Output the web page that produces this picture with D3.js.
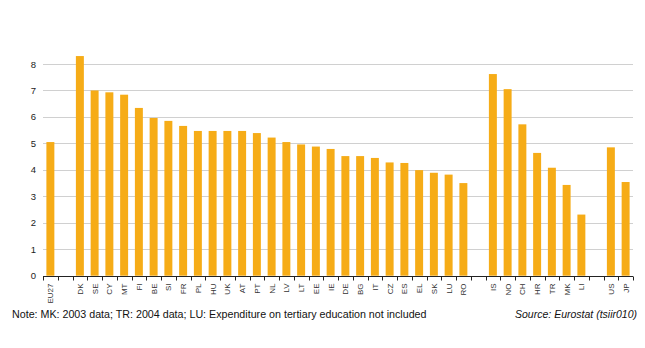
<!DOCTYPE html>
<html><head><meta charset="utf-8">
<script src="https://cdn.jsdelivr.net/npm/d3@7"></script>
<style>body{margin:0;background:#fff;}svg{display:block;font-family:"Liberation Sans",Arial,sans-serif;}</style>
</head><body>
<svg id="c" width="645" height="348"></svg>
<script>
const categories = ["EU27","_g1","DK","SE","CY","MT","FI","BE","SI","FR","PL","HU","UK","AT","PT","NL","LV","LT","EE","IE","DE","BG","IT","CZ","ES","EL","SK","LU","RO","_g2","IS","NO","CH","HR","TR","MK","LI","_g3","US","JP"];
const values = [5.05,null,8.30,7.00,6.93,6.84,6.34,5.96,5.85,5.66,5.47,5.47,5.47,5.47,5.39,5.22,5.05,4.96,4.88,4.79,4.52,4.52,4.45,4.28,4.26,3.99,3.89,3.82,3.50,null,7.62,7.05,5.72,4.64,4.08,3.43,2.31,null,4.85,3.54];
const yTicks = [0,1,2,3,4,5,6,7,8];
const note = "Note: MK: 2003 data; TR: 2004 data; LU: Expenditure on tertiary education not included";
const source = "Source: Eurostat (tsiir010)";

const svg = d3.select("#c");
const x = d3.scaleBand().domain(categories).range([43, 633]).paddingInner(0.46).paddingOuter(0.23);
const y = d3.scaleLinear().domain([0, 8]).range([275.7, 64]);

// gridlines
svg.append("g").selectAll("line").data(yTicks.filter(d => d > 0)).join("line")
  .attr("x1", 43).attr("x2", 633)
  .attr("y1", d => Math.round(y(d)) + 0.5).attr("y2", d => Math.round(y(d)) + 0.5)
  .attr("stroke", "#d0d0d0").attr("stroke-width", 1);

// y labels
svg.append("g").selectAll("text").data(yTicks).join("text")
  .attr("x", 36).attr("y", d => y(d) + 3.5)
  .attr("text-anchor", "end").attr("font-size", 9.5).attr("fill", "#222")
  .text(d => d);

// bars
const data = categories.map((c, i) => ({c, v: values[i]})).filter(d => d.v != null);
svg.append("g").selectAll("rect").data(data).join("rect")
  .attr("x", d => x(d.c)).attr("width", x.bandwidth())
  .attr("y", d => y(d.v)).attr("height", d => y(0) - y(d.v))
  .attr("fill", "#F6AC17");

// x axis
const ax = svg.append("g").attr("transform", `translate(0,${Math.round(y(0)) + 0.5})`);
ax.append("line").attr("x1", 43).attr("x2", 633).attr("stroke", "#222").attr("stroke-width", 1);
const bounds = d3.range(categories.length + 1).map(i => 43 + i * (590 / categories.length));
ax.selectAll("line.t").data(bounds).join("line").attr("class", "t")
  .attr("x1", d => Math.round(d) + 0.5).attr("x2", d => Math.round(d) + 0.5)
  .attr("y1", 0).attr("y2", 4).attr("stroke", "#222");
ax.selectAll("text").data(categories.filter(c => !c.startsWith("_"))).join("text")
  .attr("transform", d => `translate(${x(d) + x.bandwidth() / 2 + 3},7) rotate(-90)`)
  .attr("text-anchor", "end").attr("font-size", 8).attr("fill", "#333")
  .text(d => d);

// footer
svg.append("text").attr("x", 12).attr("y", 318).attr("font-size", 10.7).attr("fill", "#111").text(note);
svg.append("text").attr("x", 637).attr("y", 318).attr("text-anchor", "end").attr("font-size", 10.5)
  .attr("font-style", "italic").attr("fill", "#111").text(source);
</script>
</body></html>
